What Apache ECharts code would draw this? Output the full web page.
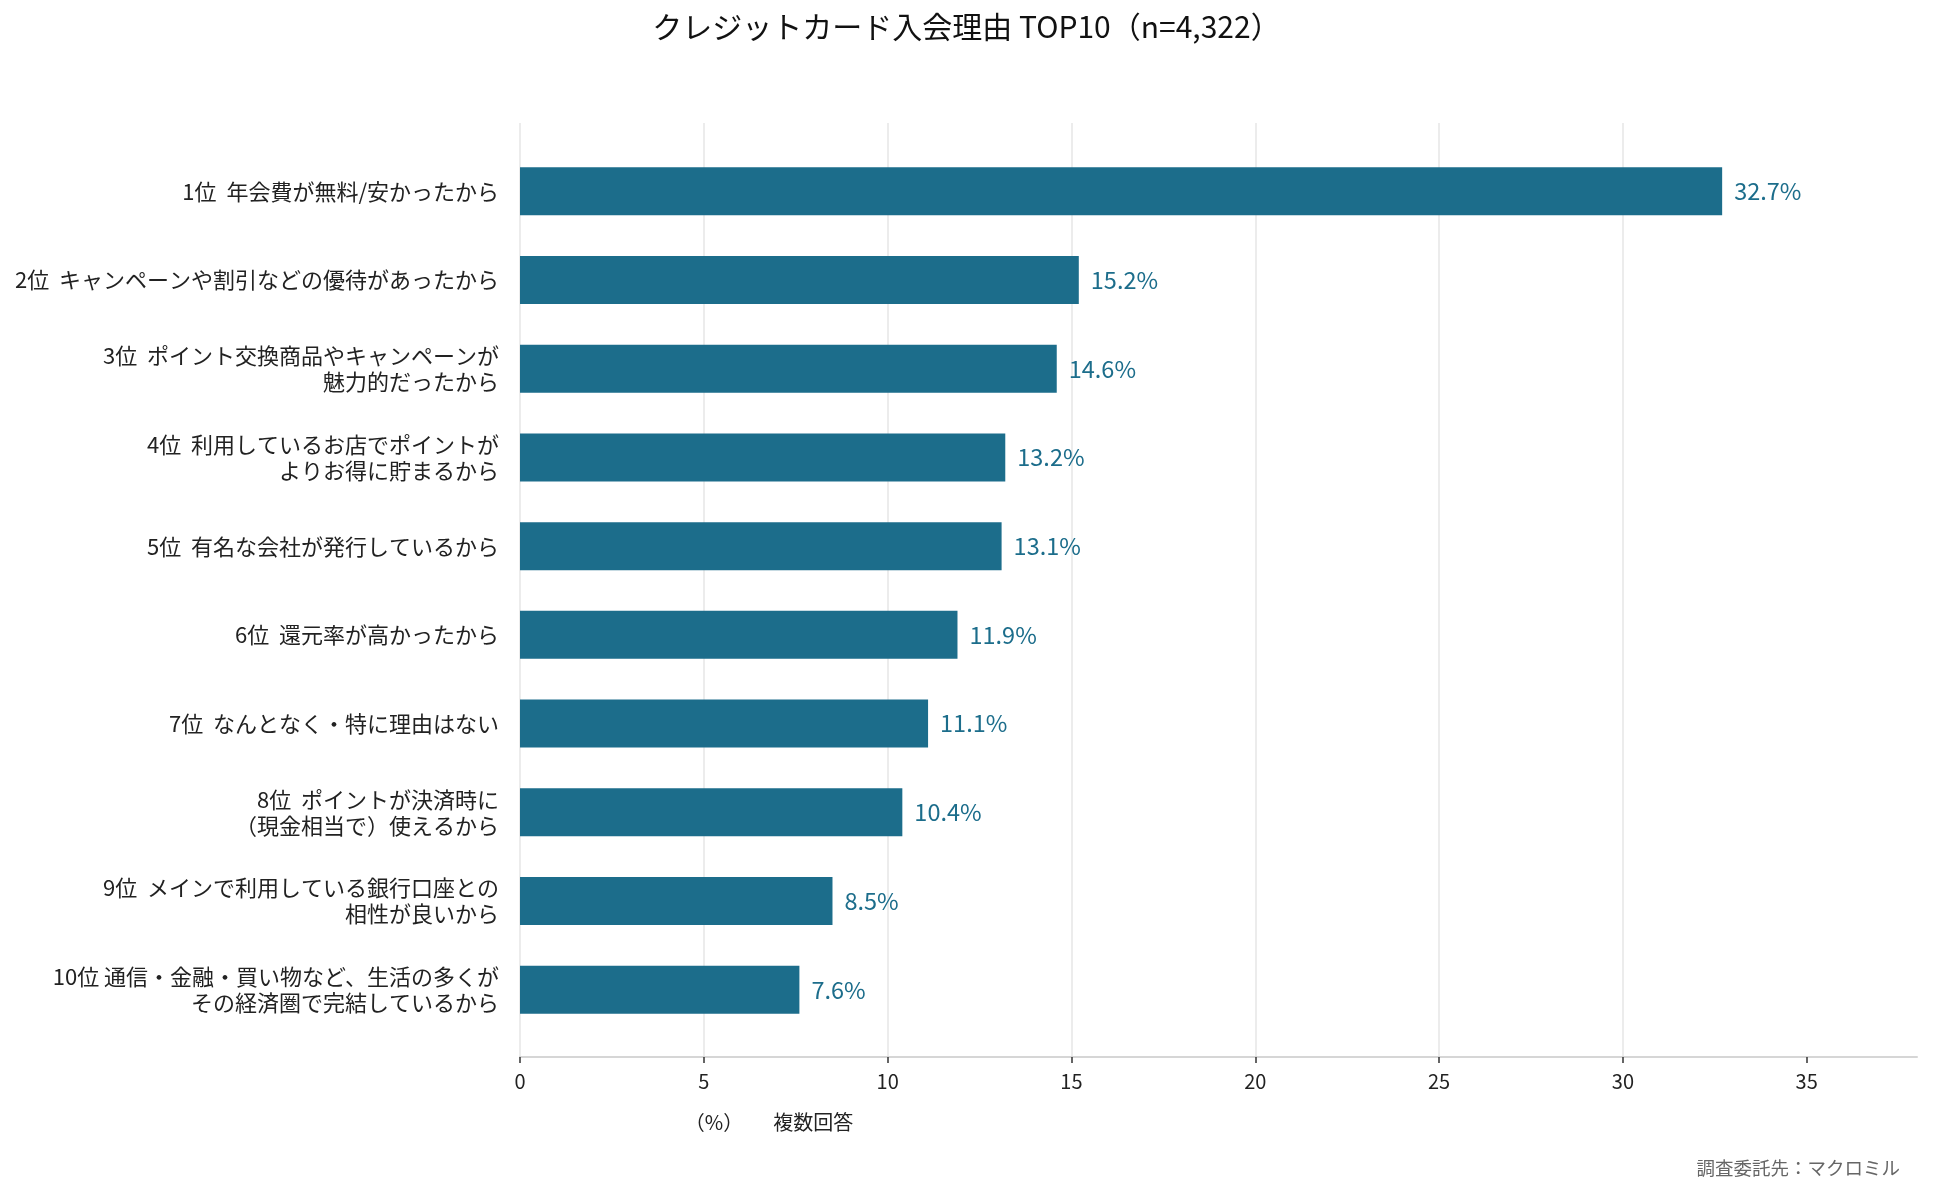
<!DOCTYPE html>
<html>
<head>
<meta charset="utf-8">
<script src="https://cdn.jsdelivr.net/npm/echarts@6/dist/echarts.min.js"></script>
<style>
  html, body { margin: 0; padding: 0; background: #fff; }
  #chart { width: 1933px; height: 1194px; }
</style>
</head>
<body>
<div id="chart"></div>
<script>
var reasons = [
  '1位  年会費が無料/安かったから',
  '2位  キャンペーンや割引などの優待があったから',
  '3位  ポイント交換商品やキャンペーンが\n魅力的だったから',
  '4位  利用しているお店でポイントが\nよりお得に貯まるから',
  '5位  有名な会社が発行しているから',
  '6位  還元率が高かったから',
  '7位  なんとなく・特に理由はない',
  '8位  ポイントが決済時に\n（現金相当で）使えるから',
  '9位  メインで利用している銀行口座との\n相性が良いから',
  '10位 通信・金融・買い物など、生活の多くが\nその経済圏で完結しているから'
];
var shares = [32.7, 15.2, 14.6, 13.2, 13.1, 11.9, 11.1, 10.4, 8.5, 7.6];
var xTicks = [0, 5, 10, 15, 20, 25, 30, 35];

var font = '"Noto Sans CJK JP", "Noto Sans", sans-serif';
var barColor = '#1c6d8b';

var chart = echarts.init(document.getElementById('chart'));

var option = {
  backgroundColor: '#fff',
  textStyle: { fontFamily: font },
  title: {
    text: 'クレジットカード入会理由 TOP10（n=4,322）',
    left: 'center',
    top: 7,
    textStyle: { fontFamily: font, fontSize: 30, fontWeight: 'normal', color: '#111' }
  },
  grid: [
    { left: 520, right: 16, top: 147, bottom: 160 },
    { left: 520, right: 16, top: 123, bottom: 137 }
  ],
  xAxis: [
    { gridIndex: 0, type: 'value', min: 0, max: 38, show: false },
    {
      gridIndex: 1, type: 'value', min: 0, max: 38, interval: 5,
      axisLine: { show: true, lineStyle: { color: '#d6d6d6', width: 2 } },
      axisTick: { show: true, length: 6, customValues: xTicks, lineStyle: { color: '#333', width: 1.5 } },
      axisLabel: { customValues: xTicks, margin: 14, fontSize: 20, color: '#222', fontFamily: font },
      splitLine: { show: true, showMaxLine: false, lineStyle: { color: '#ececec', width: 2 } }
    }
  ],
  yAxis: [
    {
      gridIndex: 0, type: 'category', inverse: true, data: reasons,
      axisLine: { show: false }, axisTick: { show: false },
      axisLabel: { margin: 21, fontSize: 22, lineHeight: 26, color: '#222', align: 'right', fontFamily: font }
    },
    { gridIndex: 1, type: 'value', show: false }
  ],
  series: [{
    type: 'bar',
    xAxisIndex: 0, yAxisIndex: 0,
    data: shares,
    barWidth: 48,
    itemStyle: { color: barColor },
    label: {
      show: true, position: 'right', distance: 12,
      formatter: function (p) { return p.value.toFixed(1) + '%'; },
      color: barColor, fontSize: 23.5, fontFamily: font
    }
  }],
  graphic: [
    {
      type: 'text', x: 769, y: 1122,
      style: { text: '（%）　　複数回答', font: '20px ' + font, fill: '#222', textAlign: 'center', textVerticalAlign: 'middle' }
    },
    {
      type: 'text', x: 1900, y: 1168,
      style: { text: '調査委託先：マクロミル', font: '18.5px ' + font, fill: '#666', textAlign: 'right', textVerticalAlign: 'middle' }
    }
  ]
};

chart.setOption(option);
</script>
</body>
</html>
